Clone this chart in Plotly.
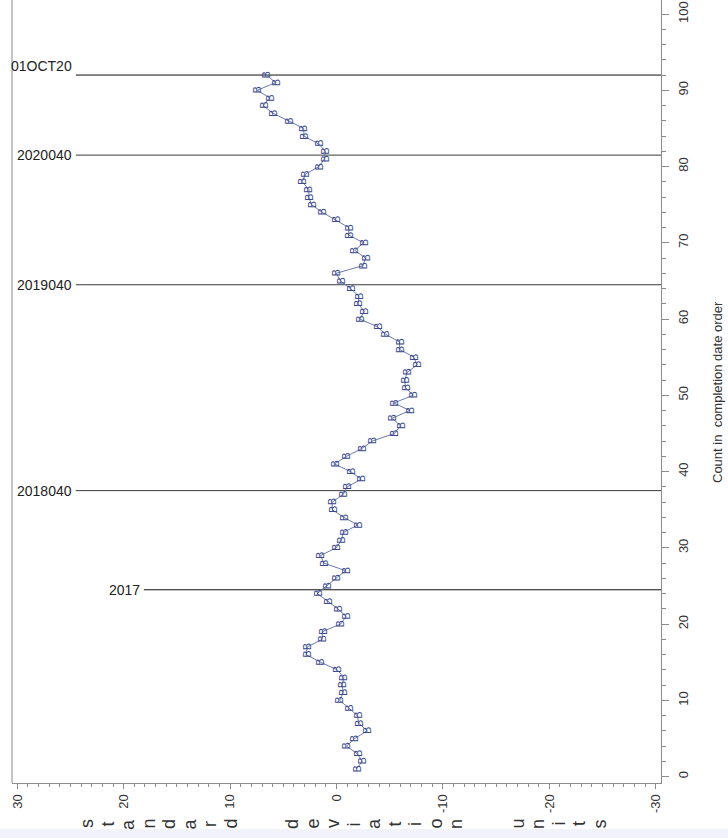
import plotly.graph_objects as go

# Position in completion-date order and the standardized deviation of each run
count = list(range(1, 93))
sd_units = [
    -1.88, -2.42, -1.95, -0.94, -1.72, -2.89, -2.10, -1.95, -1.16, -0.28,
    -0.63, -0.54, -0.69, -0.07, 1.50, 2.85, 2.75, 1.34, 1.34, -0.38,
    -0.91, -0.12, 0.82, 1.81, 0.94, 0.03, -0.85, 1.19, 1.50, 0.03,
    -0.47, -0.63, -2.00, -0.69, 0.40, 0.40, -0.63, -1.01, -2.32, -1.32,
    0.19, -0.94, -2.35, -3.36, -5.45, -6.02, -5.24, -6.89, -5.39, -7.21,
    -6.48, -6.42, -6.64, -7.58, -7.27, -5.95, -5.92, -4.61, -3.83, -2.19,
    -2.63, -2.04, -2.10, -1.32, -0.38, 0.03, -2.47, -2.73, -1.72, -2.54,
    -1.16, -1.16, 0.03, 1.34, 2.35, 2.60, 2.60, 3.22, 2.91, 1.66,
    1.13, 1.03, 1.72, 3.07, 3.07, 4.48, 5.99, 6.89, 6.27, 7.45,
    5.73, 6.58,
]

# Period boundaries drawn as reference lines
ref_labels = ["01OCT20", "2020040", "2019040", "2018040", "2017"]
ref_counts = [92, 81.5, 64.5, 37.5, 24.5]
ref_start_sd = [24.5, 24.5, 24.5, 24.5, 18.1]

x_ticks = [30, 20, 10, 0, -10, -20, -30]
y_ticks = list(range(0, 101, 10))

W, H = 728, 838
ML, MR, MT, MB = 12, 67, 0, 55
PW, PH = W - ML - MR, H - MT - MB

def px_x(px):
    return (px - ML) / PW

def px_y(py):
    return (H - MB - py) / PH

FONT = "Liberation Sans, Arial, sans-serif"
MARK = "#3a4a8c"
AXIS = "#8c8c8c"

fig = go.Figure()

fig.add_trace(go.Scatter(
    x=sd_units, y=count, mode="lines",
    line=dict(color="#6b7ab2", width=1),
    hoverinfo="skip", showlegend=False,
))

annotations = []

# plotting symbol at every point, turned with the rest of the chart
for xv, yv in zip(sd_units, count):
    annotations.append(dict(
        x=xv, y=yv, xref="x", yref="y", text="B", textangle=-90,
        showarrow=False, xanchor="center", yanchor="middle",
        font=dict(family=FONT, size=11, color=MARK),
    ))

shapes = []
for lab, yc, xs in zip(ref_labels, ref_counts, ref_start_sd):
    dark = lab in ("01OCT20", "2017")
    shapes.append(dict(
        type="line", xref="x", yref="y", x0=xs, x1=-30.55, y0=yc, y1=yc,
        line=dict(color="#111111" if dark else "#3a3a3a", width=1),
        layer="below",
    ))
    label_y = yc + 1.15 if lab == "01OCT20" else yc
    annotations.append(dict(
        x=xs, y=label_y, xref="x", yref="y", text=lab, showarrow=False,
        xanchor="right", yanchor="middle", xshift=-2,
        font=dict(family=FONT, size=14, color="#222222"),
    ))

# left frame edge
shapes.append(dict(
    type="line", xref="paper", yref="paper", x0=0, x1=0, y0=0, y1=1,
    line=dict(color=AXIS, width=1),
))

# pale strip along the bottom edge of the page
shapes.append(dict(
    type="rect", xref="paper", yref="paper",
    x0=px_x(0), x1=px_x(W), y0=px_y(H), y1=px_y(829),
    line=dict(width=0), fillcolor="#f2f3fa", layer="below",
))

# bottom axis title: one character per slot, each turned
title_words = ["standard", "deviation", "units"]
pitch = 20.5
gap = 61.5
pos = 87
for wi, word in enumerate(title_words):
    for ci, ch in enumerate(word):
        annotations.append(dict(
            x=px_x(pos), y=px_y(824), xref="paper", yref="paper",
            text=ch, textangle=-90, showarrow=False,
            xanchor="center", yanchor="middle",
            font=dict(family=FONT, size=18, color="#333333"),
        ))
        if ci < len(word) - 1:
            pos += pitch
    pos += gap

# right axis title
annotations.append(dict(
    x=px_x(717), y=px_y(392), xref="paper", yref="paper",
    text="Count in  completion date order", textangle=-90, showarrow=False,
    xanchor="center", yanchor="middle",
    font=dict(family=FONT, size=13, color="#333333"),
))

fig.update_layout(
    width=W, height=H,
    margin=dict(l=ML, r=MR, t=MT, b=MB, pad=0),
    paper_bgcolor="white", plot_bgcolor="white",
    showlegend=False,
    xaxis=dict(
        range=[30.5, -30.5], tickvals=x_ticks, ticktext=[str(v) for v in x_ticks],
        tickangle=-90, ticks="outside", ticklen=5, tickcolor=AXIS, tickwidth=1,
        showline=True, linecolor=AXIS, linewidth=1,
        showgrid=False, zeroline=False,
        tickfont=dict(family=FONT, size=13, color="#333333"),
        minor=dict(dtick=1, ticks="outside", ticklen=3, tickcolor=AXIS, showgrid=False),
    ),
    yaxis=dict(
        range=[-0.84, 101.84], side="right", tickvals=y_ticks,
        tickangle=-90, ticks="outside", ticklen=7, tickcolor=AXIS, tickwidth=1,
        showline=True, linecolor=AXIS, linewidth=1,
        showgrid=False, zeroline=False, ticklabelstandoff=3,
        tickfont=dict(family=FONT, size=13, color="#333333"),
        minor=dict(dtick=2, ticks="outside", ticklen=4, tickcolor=AXIS, showgrid=False),
    ),
    annotations=annotations,
    shapes=shapes,
)

fig.write_html("out.html")
